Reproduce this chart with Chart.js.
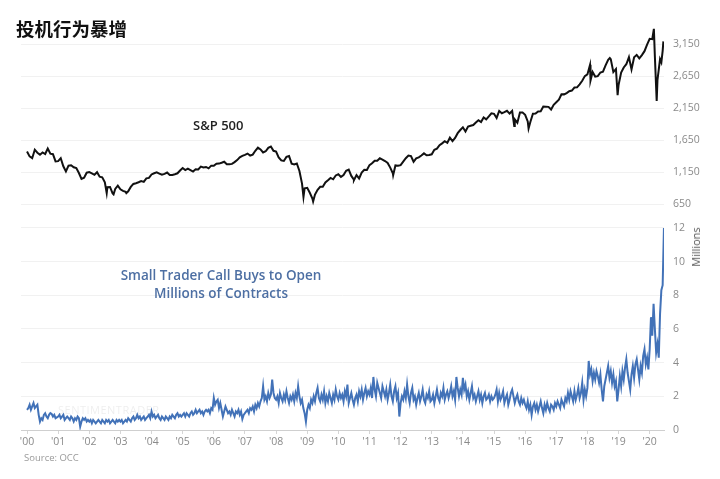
<!DOCTYPE html>
<html><head><meta charset="utf-8">
<script src="https://cdn.jsdelivr.net/npm/chart.js@4.4.1/dist/chart.umd.min.js"></script>
<style>
html,body{margin:0;padding:0;background:#fff;}
#wrap{position:relative;width:720px;height:479px;overflow:hidden;background:#fff;}
canvas{position:absolute;left:0;top:0;}
.t{position:absolute;white-space:nowrap;}
</style></head><body>
<div id="wrap">
<canvas id="c" width="720" height="479"></canvas>
<div class="t" style="left:16px;top:16px;font-family:'Noto Sans CJK SC';font-weight:700;font-size:18.5px;line-height:24px;color:#111;">投机行为暴增</div>
<div class="t" style="left:193px;top:117px;font-family:'Open Sans';font-weight:600;font-size:13px;line-height:16px;color:#222;">S&amp;P 500</div>
<div class="t" style="left:111px;top:266px;width:220px;text-align:center;font-family:'Open Sans';font-weight:600;font-size:13.5px;line-height:18px;color:#4d6fa3;">Small Trader Call Buys to Open<br>Millions of Contracts</div>
<div class="t" style="left:58px;top:403px;font-family:'Open Sans';font-size:11px;letter-spacing:0.5px;line-height:14px;color:rgba(0,0,0,0.07);">SENTIMENTRADER</div>
<div class="t" style="left:24px;top:451px;font-family:'Open Sans';font-size:9.5px;line-height:13px;color:#9a9a9a;">Source: OCC</div>
<div class="t" style="left:696px;top:247px;transform:translate(-50%,-50%) rotate(-90deg);font-family:'Open Sans';font-size:11px;line-height:14px;color:#555;">Millions</div>
</div>
<script>
// S&P 500 monthly closes, Dec 1999 .. Dec 2019 (x = 2000 + i/12)
const spxMonthly = [1469,
1394,1366,1499,1452,1421,1455,1431,1518,1437,1429,1315,1320,
1366,1240,1160,1249,1256,1224,1211,1134,1041,1060,1139,1148,
1130,1107,1147,1077,1067,990,912,916,815,886,936,880,
856,841,848,917,964,975,990,1008,996,1051,1058,1112,
1131,1145,1126,1107,1121,1141,1102,1104,1115,1130,1174,1212,
1181,1204,1181,1157,1192,1191,1234,1220,1229,1207,1249,1248,
1280,1281,1295,1311,1270,1270,1277,1304,1336,1378,1401,1418,
1438,1407,1421,1482,1531,1503,1455,1474,1527,1549,1481,1468,
1379,1331,1323,1386,1400,1280,1267,1283,1166,969,896,903,
826,735,798,873,919,919,987,1021,1057,1036,1096,1115,
1074,1104,1169,1187,1089,1031,1102,1049,1141,1183,1181,1258,
1286,1327,1326,1364,1345,1321,1292,1219,1131,1253,1247,1258,
1312,1366,1408,1398,1310,1362,1379,1407,1441,1412,1416,1426,
1498,1515,1569,1598,1631,1606,1686,1633,1682,1757,1806,1848,
1783,1859,1872,1884,1924,1960,1931,2003,1972,2018,2068,2059,
1995,2105,2068,2086,2107,2063,2104,1972,1920,2079,2080,2044,
1940,1932,2060,2065,2097,2099,2174,2171,2168,2126,2199,2239,
2279,2364,2363,2384,2412,2423,2470,2472,2519,2575,2648,2674,
2824,2714,2641,2648,2705,2718,2816,2902,2914,2711,2760,2507,
2704,2784,2834,2946,2752,2942,2980,2926,2977,3038,3141,3231];

// intra-month extremes and 2020 path
const spxExtraDates  = [2002.56,2002.78,2003.19,2008.88,2009.19,2010.50,2011.76,2015.65,2016.11,2018.10,2018.72,2018.97,
                        2020.083,2020.135,2020.167,2020.225,2020.25,2020.333,2020.375,2020.417,2020.44];
const spxExtraValues = [820,800,820,760,690,1022,1099,1867,1829,2581,2930,2351,
                        3226,3386,2954,2260,2585,2912,2863,3044,3190];

// Small trader call buys to open, millions (x = 2000 + i/24)
const callBuys = [
1.2,1.3,1.5,1.2,1.4,1.6,1.3,1.4,1.5,0.9,0.5,0.7,0.6,0.9,1.0,0.8,0.7,0.9,1.0,0.95,0.8,0.9,0.7,0.75,
0.8,0.9,0.7,0.8,0.9,0.6,0.7,0.8,0.7,0.6,0.8,0.7,0.5,0.7,0.6,0.8,0.7,0.2,0.5,0.7,0.6,0.7,0.5,0.6,
0.5,0.6,0.4,0.6,0.5,0.4,0.5,0.6,0.5,0.4,0.6,0.5,0.4,0.6,0.5,0.6,0.4,0.5,0.6,0.5,0.4,0.6,0.5,0.6,
0.5,0.6,0.4,0.5,0.6,0.5,0.7,0.6,0.5,0.7,0.8,0.6,0.7,0.9,0.7,0.8,0.6,0.7,0.8,0.6,0.7,0.8,0.9,0.7,
1.1,0.8,0.9,0.7,0.8,0.9,0.7,0.6,0.8,0.7,0.6,0.8,0.7,0.6,0.8,0.7,0.9,0.8,0.7,0.9,1.0,0.8,0.9,0.8,
0.9,1.0,0.8,1.0,0.9,0.8,1.0,1.1,0.9,1.0,1.2,1.0,1.1,1.2,1.0,1.1,0.9,1.1,1.2,1.1,1.2,1.0,1.3,1.2,
1.9,1.5,1.7,1.8,1.3,1.6,1.2,0.8,1.1,1.4,1.2,1.0,1.1,0.9,1.2,1.0,0.8,1.1,1.0,1.2,0.9,1.1,0.65,0.9,
1.0,1.1,1.2,1.0,1.3,1.2,1.4,1.1,1.5,1.3,1.6,1.4,1.7,1.9,2.6,1.8,2.0,1.7,2.2,1.9,2.1,3.0,2.2,1.9,
1.8,2.0,1.6,2.2,1.9,1.7,2.1,1.8,2.3,1.9,1.6,2.0,1.8,2.1,1.7,2.2,1.9,2.6,2.0,1.6,1.8,1.3,1.0,0.5,
1.2,1.5,1.3,1.8,1.6,2.0,1.7,2.2,2.5,1.9,1.7,2.1,1.8,2.3,1.6,2.0,1.7,2.2,1.9,1.6,2.1,1.8,2.4,2.0,
1.8,2.2,1.9,2.1,1.7,2.3,2.0,2.7,1.6,1.9,2.2,1.8,1.5,1.9,2.1,1.7,2.3,2.0,2.4,1.8,2.2,2.5,2.0,2.3,
2.1,2.5,1.9,3.15,2.4,2.0,2.8,2.5,2.2,1.9,2.6,2.3,2.0,2.4,1.8,2.2,2.7,2.0,1.7,2.3,2.6,1.9,2.2,0.8,
1.6,2.0,1.8,2.3,1.9,2.7,2.0,1.6,2.2,2.5,1.8,2.0,1.5,1.9,2.2,1.7,2.0,2.4,1.8,1.6,2.1,1.9,2.3,1.7,
1.8,2.1,1.6,2.0,2.4,1.9,1.7,2.2,2.0,2.5,1.8,2.1,2.3,1.9,2.2,2.6,2.0,2.3,1.8,3.15,2.5,2.0,2.4,2.1,
3.1,2.4,2.7,2.0,2.3,1.8,2.2,2.6,1.9,2.1,1.7,2.0,2.3,1.8,2.1,1.6,2.0,2.2,1.8,1.9,2.1,1.7,2.0,1.8,
1.9,2.1,2.4,1.7,2.2,1.8,2.0,2.3,1.6,1.9,2.1,1.5,1.8,2.2,2.4,2.0,1.6,1.9,2.1,1.7,1.5,1.9,1.6,1.8,
1.5,1.3,1.7,1.2,1.5,0.9,1.4,1.6,1.2,1.5,1.1,1.4,1.7,1.3,1.0,1.5,1.2,1.6,1.3,1.1,1.5,1.4,1.2,1.6,
1.4,1.7,1.5,1.3,1.8,1.6,1.4,1.9,1.7,2.2,1.8,2.3,2.0,1.7,2.3,1.8,2.1,2.5,1.9,2.2,2.8,1.8,2.4,2.0,
2.5,4.1,3.3,3.6,2.9,3.4,3.0,3.5,3.2,2.8,3.3,2.4,1.7,2.6,3.0,3.4,3.8,3.1,3.5,2.8,3.3,2.6,2.9,1.7,
2.4,3.2,2.6,3.5,3.0,3.7,4.2,3.4,2.9,2.4,3.3,3.8,3.1,3.9,4.2,3.6,3.0,3.8,3.4,4.4,4.8,3.9,4.3,3.6,
4.8,6.7,5.6,7.5,6.0,4.6,5.1,4.3,6.9,8.3,8.6,12.0];

const xTickYears = [2000,2001,2002,2003,2004,2005,2006,2007,2008,2009,2010,2011,2012,2013,2014,2015,2016,2017,2018,2019,2020];
const spxTicks = [650,1150,1650,2150,2650,3150];
const callTicks = [0,2,4,6,8,10,12];

const spxPoints = spxMonthly.map((v,i)=>({x:2000+i/12,y:v}))
  .concat(spxExtraDates.map((d,i)=>({x:d,y:spxExtraValues[i]})))
  .sort((a,b)=>a.x-b.x);
const callPoints = callBuys.map((v,i)=>({x:2000+i/24,y:v}));

const tickFont = {family:'Open Sans', size:10.5};
const tickColor = '#8a8a8a';

new Chart(document.getElementById('c'), {
  type:'line',
  data:{datasets:[
    {label:'S&P 500', data:spxPoints, yAxisID:'ySpx', borderColor:'#111', borderWidth:2, pointRadius:0, tension:0, fill:false},
    {label:'Small Trader Call Buys to Open', data:callPoints, yAxisID:'yCall', borderColor:'#4272b8', borderWidth:2, pointRadius:0, tension:0, fill:false}
  ]},
  options:{
    responsive:false, animation:false, devicePixelRatio:1,
    layout:{padding:{left:21,right:0,top:28,bottom:29}},
    plugins:{legend:{display:false}, tooltip:{enabled:false}},
    scales:{
      x:{type:'linear', min:1999.807, max:2020.46,
         afterBuildTicks:s=>{s.ticks=xTickYears.map(v=>({value:v}));},
         afterFit:s=>{s.height=20;},
         ticks:{callback:v=>"'"+String(v%100).padStart(2,'0'), color:tickColor, font:tickFont, padding:2, maxRotation:0, autoSkip:false},
         grid:{drawOnChartArea:false, drawTicks:true, tickLength:4, color:'#d6d6d6'},
         border:{color:'#cfcfcf'}},
      ySpx:{type:'linear', position:'right', stack:'v', stackWeight:189, min:447, max:3400,
         afterBuildTicks:s=>{s.ticks=spxTicks.map(v=>({value:v}));},
         afterFit:s=>{s.width=56;},
         ticks:{callback:v=>v.toLocaleString('en-US'), color:tickColor, font:tickFont, padding:9},
         grid:{color:'#f1f1f1', drawTicks:false},
         border:{display:false}},
      yCall:{type:'linear', position:'right', stack:'v', stackWeight:213, min:0, max:12.65,
         afterBuildTicks:s=>{s.ticks=callTicks.map(v=>({value:v}));},
         afterFit:s=>{s.width=56;},
         ticks:{callback:v=>String(v), color:tickColor, font:tickFont, padding:9},
         grid:{color:'#f1f1f1', drawTicks:false},
         border:{display:false}}
    }
  }
});
</script>
</body></html>
